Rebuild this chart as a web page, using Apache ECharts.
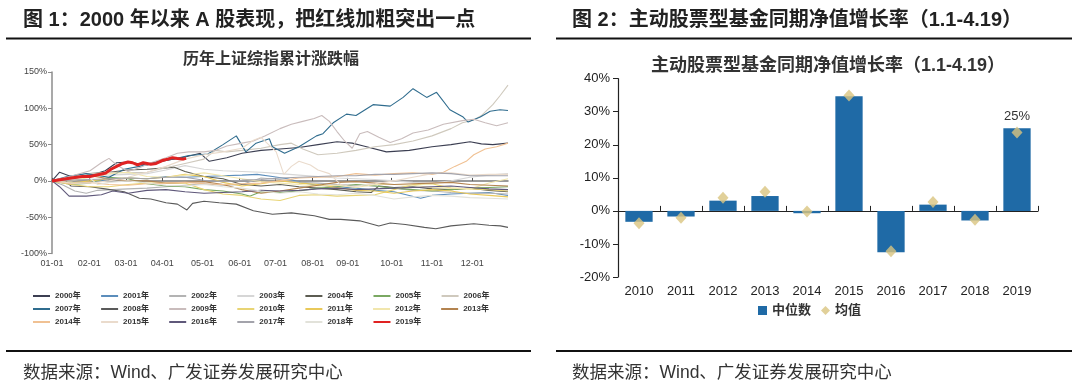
<!DOCTYPE html>
<html><head><meta charset="utf-8">
<script src="https://cdn.jsdelivr.net/npm/echarts@6/dist/echarts.min.js"></script>
<style>html,body{margin:0;padding:0;background:#fff}#c{width:1079px;height:381px}</style>
</head><body><div id="c"></div>
<script>
// ---------- Left chart data: cumulative change (%) vs position on the date axis (0 = 01-01, 12 = 12-31) ----------
const monthLabels = ['01-01','02-01','03-01','04-01','05-01','06-01','07-01','08-01','09-01','10-01','11-01','12-01'];
const monthLabelPos = [0, 0.98, 1.95, 2.9, 3.96, 4.94, 5.88, 6.86, 7.78, 8.94, 10.0, 11.06];
const yearNames = ['2000年','2001年','2002年','2003年','2004年','2005年','2006年','2007年','2008年','2009年','2010年','2011年','2012年','2013年','2014年','2015年','2016年','2017年','2018年','2019年'];
const lineColors = ['#3c3f52','#5b8dbb','#b3b3b3','#d6d6d6','#5c5c52','#7aa862','#cfc9bd','#2f6c8e','#5a5a5a','#c9bcbc','#e8d474','#e9c95a','#f1e6ad','#b3834f','#f0c193','#eadbcc','#5f587a','#a3a3ab','#e2e2da','#e02222'];
const s2000 = [[0,0],[0.2,12],[0.5,6],[0.9,6],[1.4,14],[1.7,25],[2,26],[2.5,22],[3,28],[3.5,33],[3.9,38],[4.14,27],[4.6,32],[5,38],[5.5,42],[6,44],[6.5,46],[7,50],[7.5,54],[7.9,52],[8.2,48],[8.8,40],[9.4,42],[10,47],[10.5,50],[11,54],[11.3,51],[11.6,50],[12,52]];
const s2001 = [[0,0],[0.5,-3],[1,-2],[1.5,2],[2,4],[2.5,3],[3,6],[3.5,5],[4,6],[4.5,7],[5,8],[5.4,9],[5.8,6],[6.2,3],[6.6,-3],[7,-6],[7.5,-8],[8,-10],[8.5,-13],[9,-15],[9.4,-20],[9.7,-24],[10,-20],[10.5,-18],[11,-17],[11.5,-16],[12,-20]];
const s2002 = [[0,0],[0.3,-6],[0.6,-14],[0.9,-17],[1.2,-13],[1.6,-12],[2,-11],[2.5,-10],[3,-8],[3.5,-6],[4,-4],[4.5,-6],[5,-5],[5.5,4],[6,2],[6.5,-2],[7,-3],[7.5,-5],[8,-6],[8.5,-7],[9,-10],[9.5,-13],[10,-14],[10.5,-16],[11,-17],[11.5,-17],[12,-18]];
const s2003 = [[0,0],[0.5,5],[1,10],[1.5,8],[2,9],[2.5,10],[3,15],[3.5,21],[4,16],[4.5,14],[5,13],[5.5,12],[6,10],[6.5,8],[7,6],[7.5,4],[8,3],[8.5,2],[9,0],[9.5,-2],[10,-3],[10.5,0],[11,5],[11.5,8],[12,10]];
const s2004 = [[0,0],[0.5,5],[1,10],[1.5,12],[2,15],[2.5,16],[3,18],[3.2,19],[3.5,13],[4,6],[4.5,3],[5,-5],[5.5,-7],[6,-5],[6.5,-8],[7,-10],[7.5,-12],[8,-15],[8.4,-16],[8.6,-7],[9,-9],[9.5,-8],[10,-11],[10.5,-12],[11,-10],[11.5,-13],[12,-15]];
const s2005 = [[0,0],[0.5,-5],[1,-3],[1.5,5],[2,3],[2.5,-4],[3,-7],[3.5,-8],[4,-12],[4.5,-14],[5,-18],[5.2,-21],[5.5,-15],[6,-16],[6.5,-14],[7,-10],[7.5,-8],[8,-5],[8.5,-7],[9,-10],[9.5,-12],[10,-14],[10.5,-12],[11,-10],[11.5,-9],[12,-8]];
const s2006 = [[0,0],[0.5,5],[1,10],[1.5,12],[2,11],[2.5,12],[3,18],[3.5,24],[4,30],[4.3,42],[4.6,40],[5,42],[5.5,45],[6,50],[6.3,52],[6.6,44],[7,36],[7.5,38],[8,42],[8.5,47],[9,50],[9.5,55],[10,62],[10.5,72],[10.8,80],[11.1,84],[11.3,90],[11.6,105],[11.8,118],[12,132]];
const s2007 = [[0,0],[0.4,6],[0.9,10],[1.5,5],[1.9,16],[2.3,20],[2.8,27],[3.2,30],[3.6,35],[4.1,37],[4.5,50],[4.85,62],[5.1,40],[5.37,52],[5.72,58],[5.8,47],[6.12,38],[6.5,47],[6.96,62],[7.13,65],[7.4,80],[7.75,92],[8,90],[8.45,105],[8.9,103],[9.24,115],[9.5,127],[9.86,115],[10.12,122],[10.47,98],[10.82,88],[10.95,81],[11.27,88],[11.53,96],[11.79,98],[12,97]];
const s2008 = [[0,0],[0.3,3],[0.5,-7],[1,-8],[1.4,-11],[1.9,-15],[2.3,-24],[2.6,-25],[3,-30],[3.3,-32],[3.55,-40],[3.7,-31],[4,-28],[4.4,-30],[4.85,-32],[5.3,-41],[5.8,-46],[6.3,-44],[6.9,-48],[7.3,-53],[7.6,-53],[8.1,-55],[8.6,-62],[8.9,-58],[9.3,-60],[9.8,-64],[10.1,-66],[10.5,-62],[11.1,-59],[11.5,-61],[11.8,-62],[12,-64]];
const s2009 = [[0,0],[0.3,4],[0.6,8],[1,14],[1.3,25],[1.5,31],[1.7,22],[2,13],[2.3,18],[2.6,25],[3,32],[3.3,38],[3.6,40],[4,40],[4.3,42],[4.6,48],[5,52],[5.3,55],[5.6,62],[6,72],[6.3,78],[6.6,82],[6.9,86],[7.1,90],[7.3,82],[7.5,68],[7.7,55],[7.9,45],[8.1,65],[8.3,68],[8.6,60],[8.9,53],[9.2,58],[9.5,66],[9.9,70],[10.3,78],[10.8,83],[11.1,85],[11.4,80],[11.7,76],[12,80]];
const s2010 = [[0,0],[0.5,-5],[1,-8],[1.5,-8],[2,-5],[2.5,-3],[3,-3],[3.5,-3],[4,-12],[4.5,-18],[5,-20],[5.5,-25],[6,-27],[6.5,-20],[7,-19],[7.5,-21],[8,-20],[8.5,-19],[9,-12],[9.5,-5],[10,-4],[10.5,-10],[11,-11],[11.5,-12],[12,-14]];
const s2011 = [[0,0],[0.5,-3],[1,0],[1.5,3],[2,4],[2.5,3],[3,5],[3.5,9],[4,6],[4.5,-2],[5,-7],[5.5,-4],[6,0],[6.5,-3],[7,-5],[7.5,-9],[8,-13],[8.5,-14],[9,-17],[9.5,-14],[10,-12],[10.5,-14],[11,-18],[11.5,-20],[12,-22]];
const s2012 = [[0,0],[0.5,0],[1,5],[1.5,10],[2,12],[2.5,6],[3,5],[3.5,8],[4,11],[4.5,7],[5,3],[5.5,-1],[6,-3],[6.5,-5],[7,-7],[7.5,-6],[8,-9],[8.5,-5],[9,-5],[9.5,-6],[10,-9],[10.5,-10],[11,-11],[11.5,-3],[12,3]];
const s2013 = [[0,0],[0.5,3],[1,7],[1.5,3],[2,0],[2.5,0],[3,-3],[3.5,-2],[4,-1],[4.5,-5],[5,-12],[5.5,-17],[6,-14],[6.5,-10],[7,-6],[7.5,-2],[8,-1],[8.5,-3],[9,-5],[9.5,-4],[10,-3],[10.5,-2],[11,-5],[11.5,-6],[12,-7]];
const s2014 = [[0,0],[0.5,-4],[1,-2],[1.5,-5],[2,-6],[2.5,-4],[3,-3],[3.5,-2],[4,-4],[4.5,-5],[5,-4],[5.5,-3],[6,0],[6.5,4],[7,5],[7.5,6],[8,10],[8.5,8],[9,10],[9.5,11],[10,9],[10.3,12],[10.6,20],[10.9,27],[11.1,36],[11.4,44],[11.7,47],[12,52]];
const s2015 = [[0,0],[0.5,-3],[1,-3],[1.5,0],[2,5],[2.5,12],[3,20],[3.5,30],[4,36],[4.5,40],[5,45],[5.3,56],[5.5,60],[5.7,50],[5.9,40],[6.1,9],[6.3,20],[6.5,27],[6.8,22],[7,15],[7.3,10],[7.6,-5],[7.9,-8],[8.2,-6],[8.5,-4],[9,0],[9.5,5],[10,10],[10.5,11],[11,8],[11.5,9],[12,9]];
const s2016 = [[0,0],[0.2,-8],[0.45,-21],[0.9,-21],[1.3,-19],[1.6,-14],[2,-17],[2.5,-13],[3,-12],[3.5,-15],[4,-17],[4.5,-16],[5,-15],[5.5,-13],[6,-14],[6.5,-13],[7,-11],[7.5,-10],[8,-12],[8.5,-11],[9,-10],[9.5,-9],[10,-8],[10.5,-7],[11,-9],[11.5,-11],[12,-12]];
const s2017 = [[0,0],[0.5,1],[1,2],[1.5,3],[2,4],[2.5,3],[3,5],[3.5,5],[4,1],[4.5,-1],[5,1],[5.5,2],[6,4],[6.5,5],[7,6],[7.5,7],[8,7],[8.5,9],[9,9],[9.5,10],[10,11],[10.5,10],[11,7],[11.5,7],[12,7]];
const s2018 = [[0,0],[0.5,5],[0.9,8],[1.2,-5],[1.5,-2],[2,0],[2.5,-3],[3,-6],[3.5,-7],[4,-5],[4.5,-8],[5,-10],[5.5,-14],[6,-17],[6.5,-15],[7,-18],[7.5,-19],[8,-17],[8.5,-20],[9,-25],[9.5,-22],[10,-20],[10.5,-21],[11,-23],[11.5,-24],[12,-25]];
const s2019 = [[0,0],[0.25,2],[0.5,4],[0.8,6],[1,6],[1.42,11],[1.55,16],[1.7,20],[1.86,24],[2,26],[2.12,25],[2.25,22],[2.4,25],[2.6,23],[2.74,24],[2.9,28],[3.05,30],[3.17,32],[3.3,31],[3.45,30],[3.53,31]];
const lineData = [s2000,s2001,s2002,s2003,s2004,s2005,s2006,s2007,s2008,s2009,s2010,s2011,s2012,s2013,s2014,s2015,s2016,s2017,s2018,s2019];
const leftYTicks = {min:-100, max:150, step:50};

// ---------- Right chart data ----------
const barYears = ['2010','2011','2012','2013','2014','2015','2016','2017','2018','2019'];
const medianVals = [-3.3,-1.7,3.1,4.5,-0.7,34.7,-12.5,1.9,-2.9,25.0];
const meanVals = [-3.7,-2.1,4.0,5.8,-0.2,34.9,-12.2,2.7,-2.7,23.7];
const rightYTicks = {min:-20, max:40, step:10};

const FONT = '"Liberation Sans", "Noto Sans CJK SC", sans-serif';
const chart = echarts.init(document.getElementById('c'), null, {renderer:'canvas'});

const lineSeries = lineData.map((d,i)=>({
  name: yearNames[i], type:'line', xAxisIndex:0, yAxisIndex:0,
  data: d, symbol:'none', smooth:false,
  lineStyle:{color:lineColors[i], width: i===19 ? 3 : 1.1},
  itemStyle:{color:lineColors[i]},
  z: i===19 ? 5 : 2
}));

function legendRow(names, top){
  return {
    data: names.map(n=>({name:n, icon:'rect'})), left: 33, top: top, orient:'horizontal', padding:0,
    itemWidth:17, itemHeight:2, itemGap:20.3,
    textStyle:{fontFamily:FONT, fontSize:8, color:'#333', fontWeight:'bold'},
    selectedMode:false
  };
}

const option = {
  animation:false,
  backgroundColor:'#fff',
  title:[
    {text:'图 1：2000 年以来 A 股表现，把红线加粗突出一点', left:18, top:5, textStyle:{fontFamily:FONT, fontSize:20, fontWeight:'bold', color:'#222'}},
    {text:'图 2：主动股票型基金同期净值增长率（1.1-4.19）', left:567, top:5, textStyle:{fontFamily:FONT, fontSize:20, fontWeight:'bold', color:'#222'}},
    {text:'历年上证综指累计涨跌幅', left:266, textAlign:'center', top:47, textStyle:{fontFamily:FONT, fontSize:16, fontWeight:'bold', color:'#333'}},
    {text:'主动股票型基金同期净值增长率（1.1-4.19）', left:823, textAlign:'center', top:52, textStyle:{fontFamily:FONT, fontSize:18, fontWeight:'bold', color:'#333'}},
    {text:'数据来源：Wind、广发证券发展研究中心', left:18, top:359, textStyle:{fontFamily:FONT, fontSize:17.5, fontWeight:'normal', color:'#333'}},
    {text:'数据来源：Wind、广发证券发展研究中心', left:567, top:359, textStyle:{fontFamily:FONT, fontSize:17.5, fontWeight:'normal', color:'#333'}}
  ],
  graphic:[
    {type:'line', shape:{x1:6,y1:38.5,x2:531,y2:38.5}, style:{stroke:'#111', lineWidth:2}},
    {type:'line', shape:{x1:556,y1:38.5,x2:1072,y2:38.5}, style:{stroke:'#111', lineWidth:2}},
    {type:'line', shape:{x1:6,y1:351,x2:531,y2:351}, style:{stroke:'#111', lineWidth:2}},
    {type:'line', shape:{x1:556,y1:351,x2:1072,y2:351}, style:{stroke:'#111', lineWidth:2}}
  ],
  legend:[
    legendRow(yearNames.slice(0,7), 292),
    legendRow(yearNames.slice(7,14), 305),
    legendRow(yearNames.slice(14,20), 318),
    {data:[{name:'中位数', icon:'rect'},{name:'均值', icon:'diamond'}], left:758, top:304, orient:'horizontal', padding:0,
     itemWidth:9, itemHeight:9, itemGap:10,
     textStyle:{fontFamily:FONT, fontSize:13, fontWeight:'bold', color:'#333'}, selectedMode:false}
  ],
  grid:[
    {left:52, top:72, width:456, height:181.5},
    {left:618, top:78.7, width:420, height:198.3}
  ],
  xAxis:[
    {type:'value', gridIndex:0, min:0, max:12,
     axisLine:{show:false, onZero:false}, axisTick:{show:false}, splitLine:{show:false},
     axisLabel:{fontFamily:FONT, fontSize:9, color:'#444', margin:6, customValues:monthLabelPos,
       formatter:v=>{const k=monthLabelPos.indexOf(v); return k>=0 ? monthLabels[k] : '';}}},
    {type:'value', gridIndex:0, min:0, max:12,
     axisLine:{show:true, onZero:true, lineStyle:{color:'#7a7a7a', width:1.5}},
     axisTick:{show:true, length:3, customValues:monthLabelPos, lineStyle:{color:'#555'}}, axisLabel:{show:false}, splitLine:{show:false}},
    {type:'category', gridIndex:1, data:barYears, position:'bottom',
     axisLine:{show:false, onZero:false}, axisTick:{show:false},
     axisLabel:{fontFamily:FONT, fontSize:13, color:'#222', margin:8}},
    {type:'category', gridIndex:1, data:barYears,
     axisLine:{show:true, onZero:true, lineStyle:{color:'#222', width:1.2}},
     axisTick:{show:true, alignWithLabel:false, length:5, lineStyle:{color:'#222'}}, axisLabel:{show:false}}
  ],
  yAxis:[
    {type:'value', gridIndex:0, min:leftYTicks.min, max:leftYTicks.max, interval:leftYTicks.step,
     axisLine:{show:true, lineStyle:{color:'#8c8c8c', width:1.5}},
     axisTick:{show:true, length:4, lineStyle:{color:'#8c8c8c'}}, splitLine:{show:false},
     axisLabel:{fontFamily:FONT, fontSize:9, color:'#444', margin:5, formatter:'{value}%'}},
    {type:'value', gridIndex:1, min:rightYTicks.min, max:rightYTicks.max, interval:rightYTicks.step,
     axisLine:{show:true, lineStyle:{color:'#222', width:1.2}},
     axisTick:{show:true, length:5, lineStyle:{color:'#222'}}, splitLine:{show:false},
     axisLabel:{fontFamily:FONT, fontSize:13, color:'#222', margin:8, formatter:'{value}%'}}
  ],
  series: lineSeries.concat([
    {name:'中位数', type:'bar', xAxisIndex:2, yAxisIndex:1, barWidth:'65%',
     itemStyle:{color:'#1f6aa6'},
     data: medianVals.map((v,i)=> i===medianVals.length-1 ? {value:v, label:{show:true, position:'top', distance:5, formatter:'25%', fontFamily:FONT, fontSize:13, color:'#333'}} : v)},
    {name:'均值', type:'scatter', xAxisIndex:2, yAxisIndex:1, symbol:'diamond', symbolSize:[11,12],
     itemStyle:{color:'#d9c47f'}, data: meanVals, z:5}
  ])
};
chart.setOption(option);
</script></body></html>
